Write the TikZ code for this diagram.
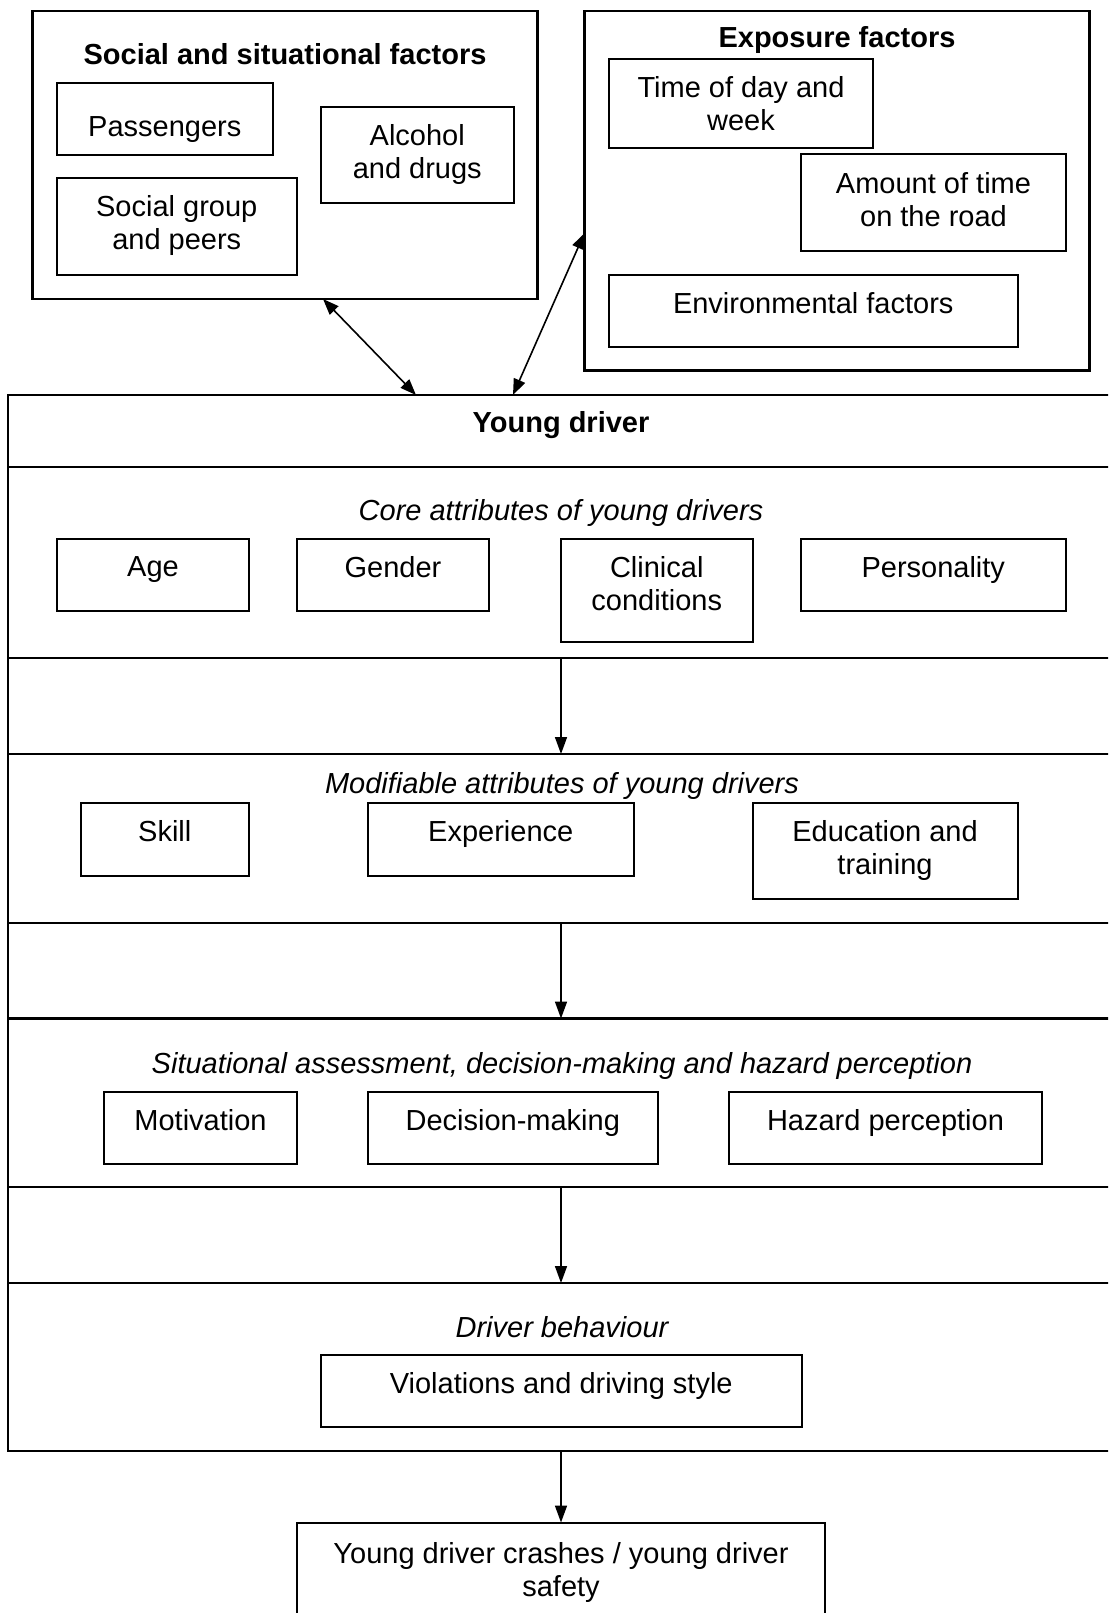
\documentclass[tikz,border=0pt]{standalone}
\usepackage{fontspec}
\setmainfont{Liberation Sans}
\usetikzlibrary{arrows.meta,fit}
\newcommand\mybx[7]{%
  \node[box, fit={(#2,#3)(#4,#5)}] (#1) {};
  \node[txt] (#1-t) at ([yshift=-#6pt]#1.north) {#7};}
\begin{document}
\begin{tikzpicture}[x=1pt,y=-1pt,
  every node/.style={font=\fontsize{29}{33}\selectfont, inner sep=0pt, outer sep=0pt},
  box/.style={draw, line width=2pt, inner sep=0pt},
  outer/.style={draw, line width=2.6pt, inner sep=0pt},
  sep/.style={line width=2.6pt},
  txt/.style={align=center, anchor=north},
  ttl/.style={anchor=base, font=\fontsize{29}{33}\selectfont\bfseries},
  sec/.style={anchor=base, font=\fontsize{29}{33}\selectfont\itshape},
  arr/.style={line width=1.6pt, -{Triangle[length=17pt,width=12pt]}},
  dbl/.style={line width=1.6pt, {Triangle[length=16pt,width=12pt]}-{Triangle[length=16pt,width=12pt]}}]
\useasboundingbox (0,0) rectangle (1108,1613);
\fill[white] (0,0) rectangle (1108,1613);
\clip (0,0) rectangle (1108,1613);

% Social and situational factors
\node[outer, fit={(32.5,11)(537.5,299)}] (social) {};
\node[ttl] (social-t) at (285,65) {Social and situational factors};
\mybx{pass}{56.5}{83}{273}{155}{33.5}{Passengers}
\mybx{alc}{321}{107}{513.5}{203}{17.5}{Alcohol\\and drugs}
\mybx{peer}{56.5}{178}{297}{275}{17.5}{Social group\\and peers}

% Exposure factors
\node[outer, fit={(584.5,11)(1089.5,370.5)}] (expo) {};
\node[ttl] (expo-t) at (837,48) {Exposure factors};
\mybx{time}{609}{59}{873}{148}{17.5}{Time of day and\\week}
\mybx{amount}{801}{154.5}{1066}{251}{17.5}{Amount of time\\on the road}
\mybx{env}{609}{275}{1017.5}{347}{17.5}{Environmental factors}

% Young driver
\node[outer, fit={(8,395)(1114,1451)}] (yd) {};
\node[ttl] (yd-t) at (561,432) {Young driver};
\draw[sep] (yd.west |- 0,467) -- (yd.east |- 0,467);
\draw[sep] (yd.west |- 0,658) -- (yd.east |- 0,658);
\draw[sep] (yd.west |- 0,754) -- (yd.east |- 0,754);
\draw[sep] (yd.west |- 0,923) -- (yd.east |- 0,923);
\draw[sep] (yd.west |- 0,1018.5) -- (yd.east |- 0,1018.5);
\draw[sep] (yd.west |- 0,1187) -- (yd.east |- 0,1187);
\draw[sep] (yd.west |- 0,1283) -- (yd.east |- 0,1283);

\node[sec] (core-t) at (561,520) {Core attributes of young drivers};
\mybx{age}{57}{539}{249}{611}{17.5}{Age}
\mybx{gender}{297}{539}{489}{611}{17.5}{Gender}
\mybx{clin}{560.5}{539}{753}{642}{17.5}{Clinical\\conditions}
\mybx{pers}{800.5}{539}{1066}{611}{17.5}{Personality}

\node[sec] (mod-t) at (562,793) {Modifiable attributes of young drivers};
\mybx{skill}{80.5}{803}{249}{875.5}{17.5}{Skill}
\mybx{exp}{368}{803}{633.5}{875.5}{17.5}{Experience}
\mybx{edu}{752.5}{803}{1017.5}{899}{17.5}{Education and\\training}

\node[sec] (sit-t) at (562,1073) {Situational assessment, decision-making and hazard perception};
\mybx{mot}{104}{1091.5}{297}{1163.5}{17.5}{Motivation}
\mybx{dec}{368}{1091.5}{657.5}{1163.5}{17.5}{Decision-making}
\mybx{haz}{729}{1091.5}{1042}{1163.5}{17.5}{Hazard perception}

\node[sec] (beh-t) at (562,1337) {Driver behaviour};
\mybx{viol}{321}{1355}{801.5}{1427}{17.5}{Violations and driving style}

% Outcome
\mybx{fin}{297}{1522.5}{825}{1650}{19.5}{Young driver crashes / young driver\\safety}

% connectors
\coordinate (a1) at (561,658);
\coordinate (a2) at (561,754);
\coordinate (b1) at (561,923);
\coordinate (b2) at (561,1018.5);
\coordinate (c1) at (561,1187);
\coordinate (c2) at (561,1283);
\draw[arr] (a1) -- (a2);
\draw[arr] (b1) -- (b2);
\draw[arr] (c1) -- (c2);
\draw[arr] (yd.south -| fin.north) -- (fin.north);
\draw[dbl] (323,0 |- social.south) -- (416,0 |- yd.north);
\draw[dbl] (513,0 |- yd.north) -- (expo.west |- 0,233);
\end{tikzpicture}
\end{document}
